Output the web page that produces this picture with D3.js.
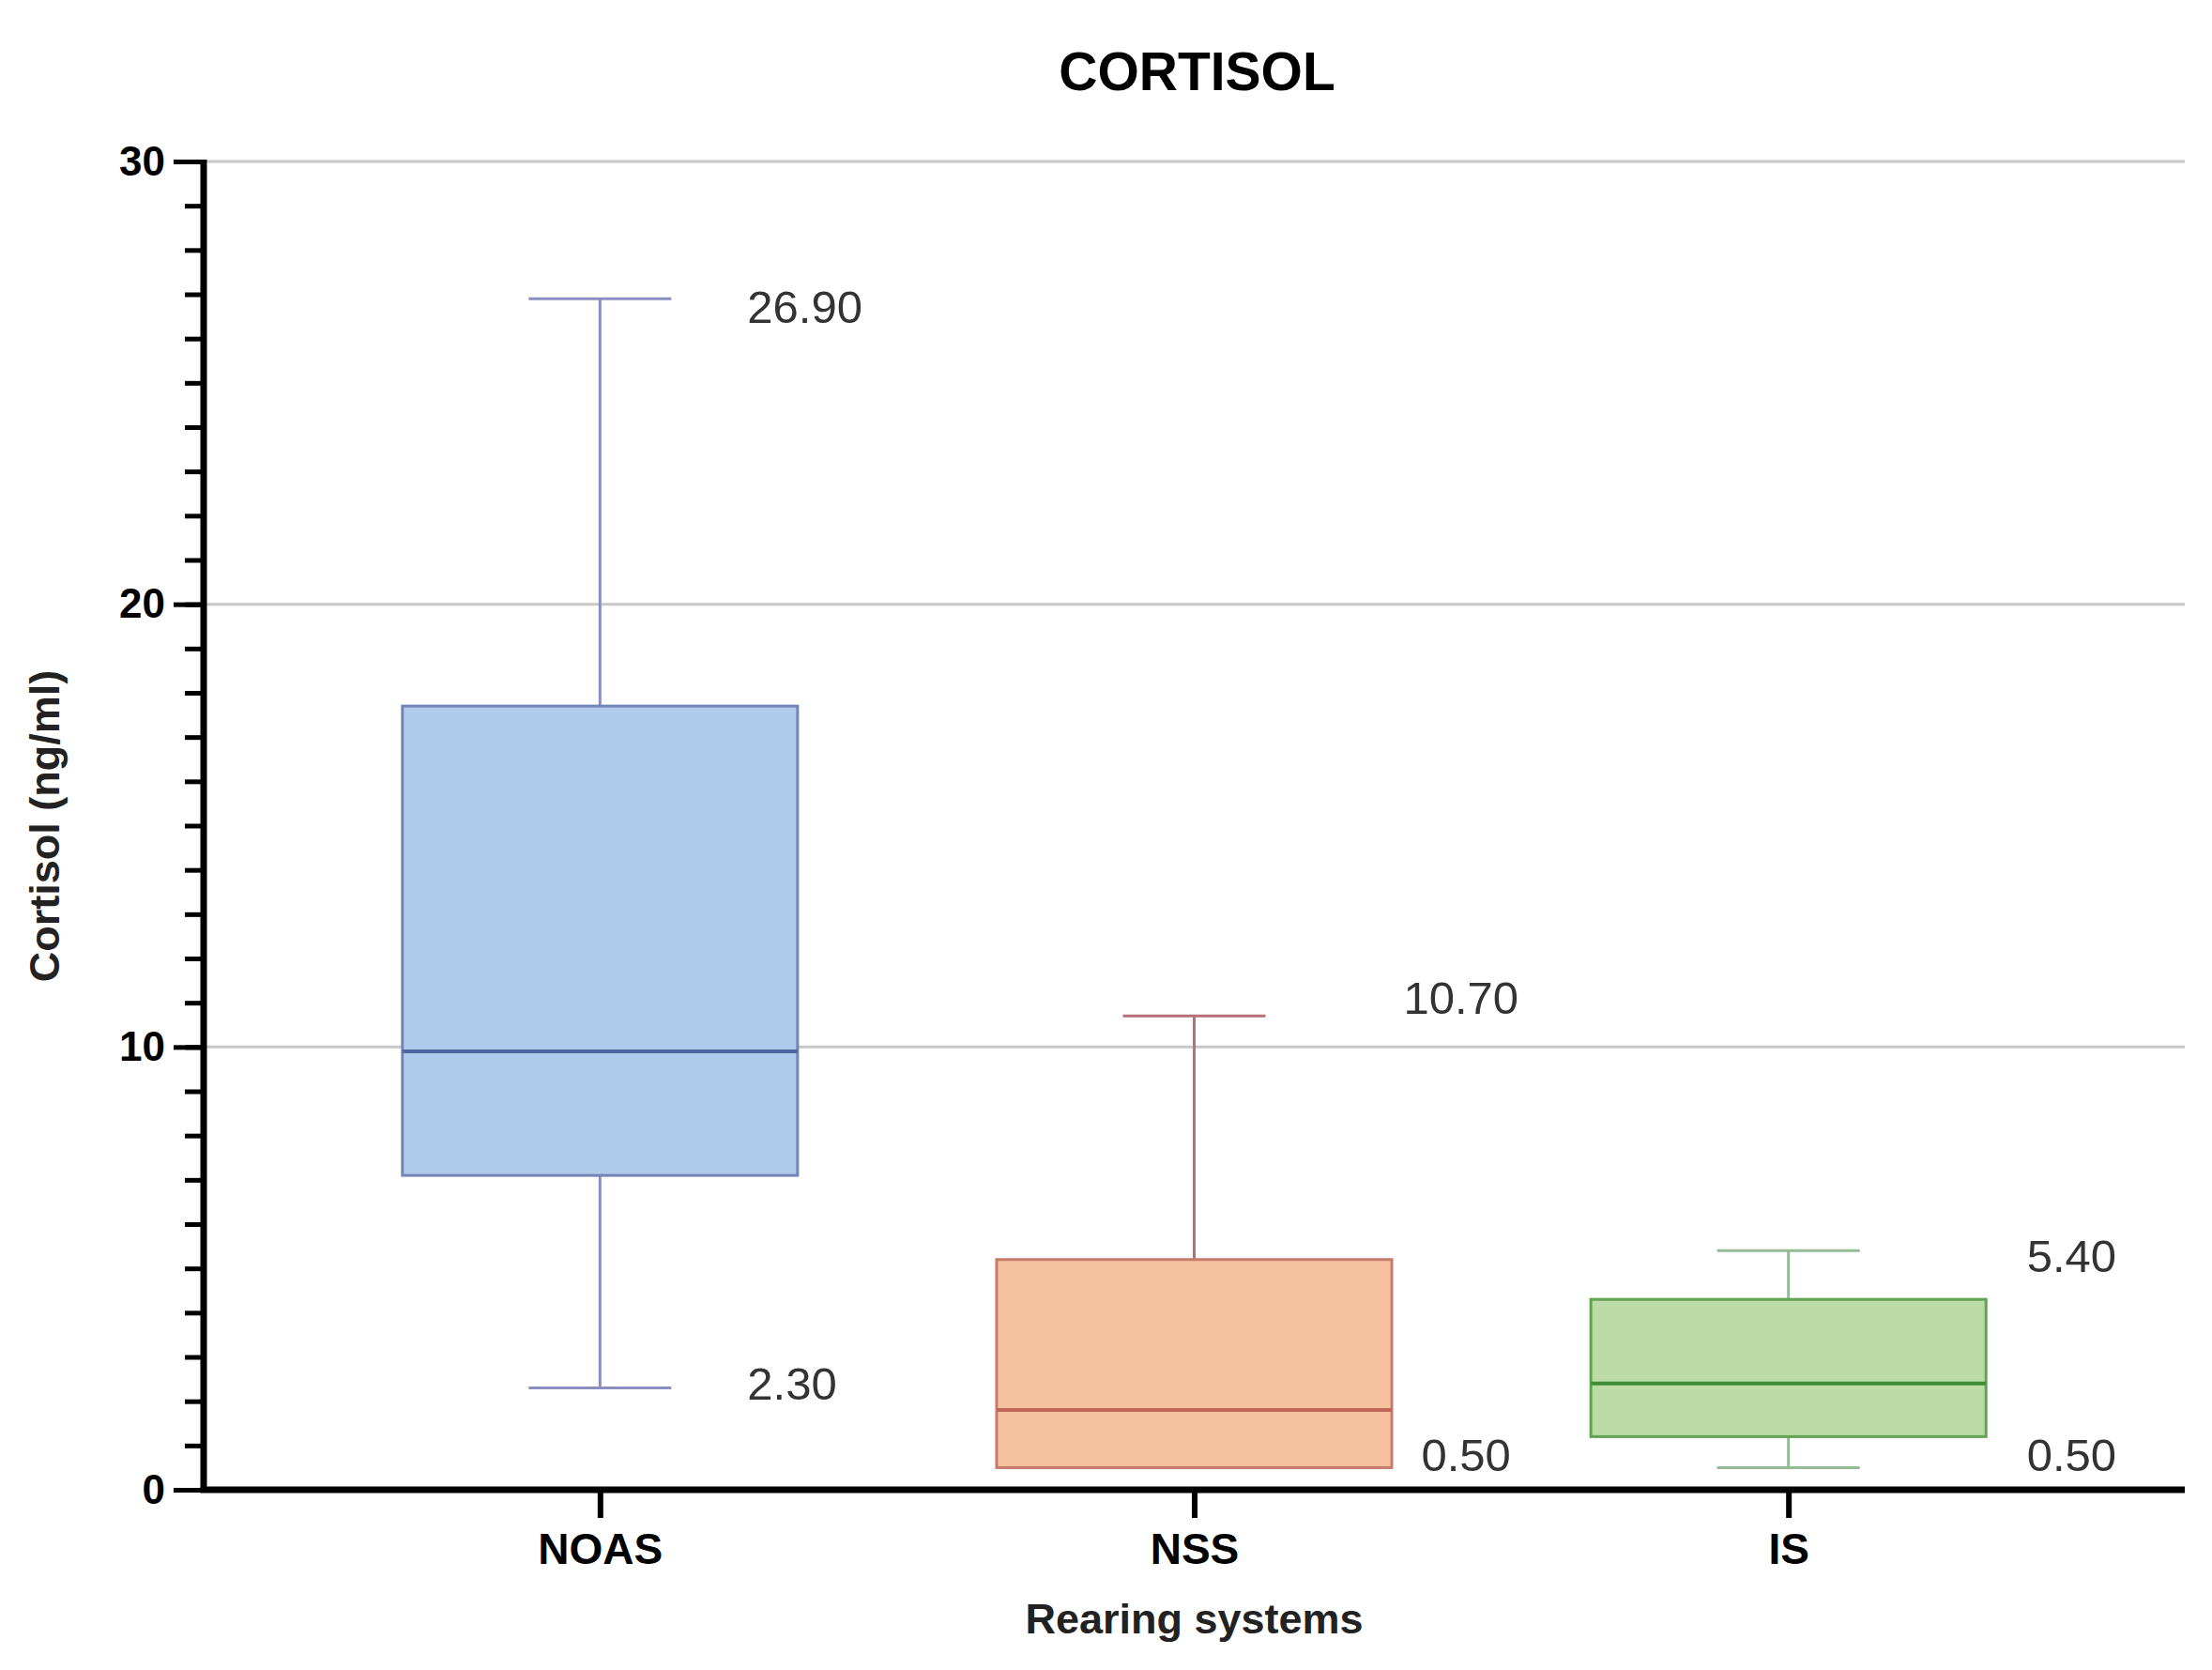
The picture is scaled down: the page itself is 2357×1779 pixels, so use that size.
<!DOCTYPE html>
<html>
<head>
<meta charset="utf-8">
<script src="https://cdn.jsdelivr.net/npm/d3@7"></script>
<style>
  body { margin: 0; background: #fff; }
  text { font-family: "Liberation Sans", Arial, sans-serif; }
</style>
</head>
<body>
<div id="chart-area"></div>
<script>
// data
let groups = ["NOAS", "NSS", "IS"];
let mins = [2.3, 0.5, 0.5];
let q1s = [7.1, 0.5, 1.2];
let medians = [9.9, 1.8, 2.4];
let q3s = [17.7, 5.2, 4.3];
let maxs = [26.9, 10.7, 5.4];
let maxLabels = ["26.90", "10.70", "5.40"];
let minLabels = ["2.30", "0.50", "0.50"];
let yMajorTicks = [0, 10, 20, 30];

// styles
let fills = ["#b0cbea", "#f5c19e", "#bbdca6"];
let strokes = ["#7384b8", "#c87b6c", "#62a352"];
let medianStrokes = ["#5266a6", "#c0675a", "#3f8c35"];
let whiskerStrokes = ["#8a8fc0", "#b7707a", "#93bb98"];
// hand placed annotation offsets (px) from group centre / value
let annot = [
	{dx: 157, dyMax: 8, dxMin: 157, dyMin: -5},
	{dx: 223, dyMax: -20, dxMin: 242, dyMin: -14},
	{dx: 254, dyMax: 5, dxMin: 254, dyMin: -14}
];

let width = 2357, height = 1779;
let margin = {top: 172, right: 29, bottom: 192, left: 217};
let innerW = width - margin.left - margin.right,
	innerH = height - margin.top - margin.bottom;

let data = groups.map((g, i) => ({
	group: g, min: mins[i], q1: q1s[i], median: medians[i], q3: q3s[i], max: maxs[i], i: i
}));

let svg = d3.select("#chart-area").append("svg")
	.attr("width", width)
	.attr("height", height);

let g = svg.append("g")
	.attr("transform", "translate(" + margin.left + "," + margin.top + ")");

let x = d3.scalePoint()
	.domain(groups)
	.range([0, innerW])
	.padding(0.667);

let y = d3.scaleLinear()
	.domain([0, 30])
	.range([innerH, 0]);

let step = x.step();
let boxW = step * 0.665;
let capW = step * 0.24;

// gridlines
g.selectAll(".grid").data(yMajorTicks.filter(d => d > 0))
	.enter().append("line")
	.attr("class", "grid")
	.attr("x1", 0).attr("x2", innerW)
	.attr("y1", d => y(d)).attr("y2", d => y(d))
	.attr("stroke", "#c8c8c8")
	.attr("stroke-width", 3);

// whiskers
let boxes = g.selectAll(".box").data(data).enter().append("g").attr("class", "box");

boxes.append("line")
	.attr("x1", d => x(d.group)).attr("x2", d => x(d.group))
	.attr("y1", d => y(d.max)).attr("y2", d => y(d.q3))
	.attr("stroke", d => whiskerStrokes[d.i]).attr("stroke-width", 3);

boxes.append("line")
	.attr("x1", d => x(d.group) - capW / 2).attr("x2", d => x(d.group) + capW / 2)
	.attr("y1", d => y(d.max)).attr("y2", d => y(d.max))
	.attr("stroke", d => whiskerStrokes[d.i]).attr("stroke-width", 3);

let low = boxes.filter(d => d.min < d.q1);
low.append("line")
	.attr("x1", d => x(d.group)).attr("x2", d => x(d.group))
	.attr("y1", d => y(d.q1)).attr("y2", d => y(d.min))
	.attr("stroke", d => whiskerStrokes[d.i]).attr("stroke-width", 3);
low.append("line")
	.attr("x1", d => x(d.group) - capW / 2).attr("x2", d => x(d.group) + capW / 2)
	.attr("y1", d => y(d.min)).attr("y2", d => y(d.min))
	.attr("stroke", d => whiskerStrokes[d.i]).attr("stroke-width", 3);

// box body
boxes.append("rect")
	.attr("x", d => x(d.group) - boxW / 2)
	.attr("width", boxW)
	.attr("y", d => y(d.q3))
	.attr("height", d => y(d.q1) - y(d.q3))
	.attr("fill", d => fills[d.i])
	.attr("stroke", d => strokes[d.i])
	.attr("stroke-width", 3);

boxes.append("line")
	.attr("x1", d => x(d.group) - boxW / 2).attr("x2", d => x(d.group) + boxW / 2)
	.attr("y1", d => y(d.median)).attr("y2", d => y(d.median))
	.attr("stroke", d => medianStrokes[d.i]).attr("stroke-width", 4);

// value annotations
boxes.append("text")
	.attr("x", d => x(d.group) + annot[d.i].dx)
	.attr("y", d => y(d.max) + annot[d.i].dyMax)
	.attr("dy", "0.36em")
	.attr("font-size", 49)
	.attr("fill", "#333")
	.text(d => maxLabels[d.i]);

boxes.append("text")
	.attr("x", d => x(d.group) + annot[d.i].dxMin)
	.attr("y", d => y(d.min) + annot[d.i].dyMin)
	.attr("dy", "0.36em")
	.attr("font-size", 49)
	.attr("fill", "#333")
	.text(d => minLabels[d.i]);

// y axis: minor ticks every 1, major every 10
let yMinor = d3.axisLeft(y).ticks(30).tickSize(20).tickFormat("");
let yMajor = d3.axisLeft(y).tickValues(yMajorTicks).tickSize(32).tickPadding(9);

g.append("g").attr("class", "axis y-minor").call(yMinor);
g.append("g").attr("class", "axis y-major").call(yMajor);

g.selectAll(".axis .domain").remove();
g.selectAll(".axis line").attr("stroke", "#000").attr("stroke-width", 5);
g.selectAll(".y-major text")
	.attr("font-size", 44)
	.attr("font-weight", "bold")
	.attr("fill", "#000");

g.append("line")
	.attr("x1", 0).attr("x2", 0)
	.attr("y1", -2).attr("y2", innerH + 3)
	.attr("stroke", "#000").attr("stroke-width", 7);

// x axis
let xAxis = d3.axisBottom(x).tickSize(30).tickPadding(16);
let xg = g.append("g").attr("class", "axis x-axis")
	.attr("transform", "translate(0," + innerH + ")")
	.call(xAxis);
xg.select(".domain").remove();
xg.selectAll("line").attr("stroke", "#000").attr("stroke-width", 6);
xg.selectAll("text")
	.attr("font-size", 46)
	.attr("font-weight", "bold")
	.attr("fill", "#000");

g.append("line")
	.attr("x1", -3.5).attr("x2", innerW)
	.attr("y1", innerH).attr("y2", innerH)
	.attr("stroke", "#000").attr("stroke-width", 7);

// titles
svg.append("text")
	.attr("x", margin.left + innerW / 2 + 3)
	.attr("y", 96)
	.attr("text-anchor", "middle")
	.attr("font-size", 57)
	.attr("font-weight", "bold")
	.text("CORTISOL");

svg.append("text")
	.attr("x", margin.left + innerW / 2)
	.attr("y", 1740)
	.attr("text-anchor", "middle")
	.attr("font-size", 45)
	.attr("font-weight", "bold")
	.attr("fill", "#222")
	.text("Rearing systems");

svg.append("text")
	.attr("transform", "translate(63," + 880 + ") rotate(-90)")
	.attr("text-anchor", "middle")
	.attr("font-size", 45)
	.attr("font-weight", "bold")
	.attr("fill", "#222")
	.text("Cortisol (ng/ml)");
</script>
</body>
</html>
